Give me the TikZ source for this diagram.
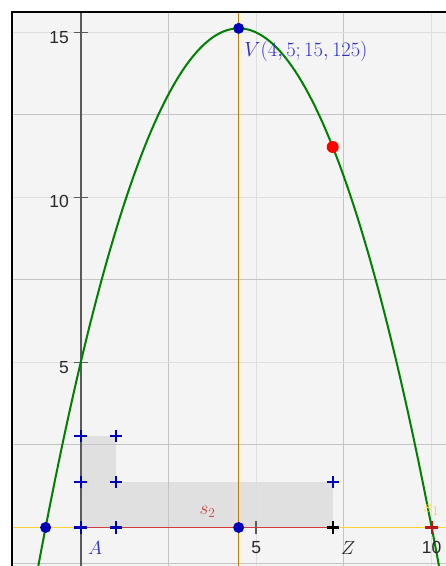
\RequirePackage{fix-cm}
\documentclass[tikz,border=0pt]{standalone}
\usepackage{fontspec}
\newfontfamily\arialf{Liberation Sans}
\definecolor{bgin}{RGB}{244,244,244}
\definecolor{shadec}{RGB}{224,224,224}
\definecolor{gridA}{RGB}{196,196,196}
\definecolor{gridB}{RGB}{222,222,222}
\definecolor{axisc}{RGB}{90,90,90}
\definecolor{ylw}{RGB}{255,208,50}
\definecolor{redl}{RGB}{210,60,60}
\definecolor{orng}{RGB}{190,125,0}
\definecolor{grn}{RGB}{0,128,0}
\definecolor{dblue}{RGB}{0,0,185}
\definecolor{lblue}{RGB}{45,45,200}
\definecolor{dred}{RGB}{190,20,20}
\definecolor{txtc}{RGB}{40,40,40}
\tikzset{
  dotpt/.style={circle, inner sep=0pt, minimum size=11pt},
  plusmark/.style={inner sep=0pt, minimum size=1pt},
  plusline/.style={line width=2.2pt},
  ticklbl/.style={font=\arialf\fontsize{17.5}{20}\selectfont, text=txtc, inner sep=0pt},
  mathlbl/.style={font=\fontsize{19}{22}\selectfont, inner sep=0pt},
}
\newcommand{\plusat}[2]{\draw[plusline,#2] (#1) +(-6.2pt,0) -- +(6.2pt,0) (#1) +(0,-6.2pt) -- +(0,6.2pt);}
\begin{document}
\begin{tikzpicture}[x=35.1pt,y=33pt]
\useasboundingbox (-2.2991,-1.1667) rectangle (10.4074,15.9848);
\fill[white] (-2.2991,-1.1667) rectangle (10.4074,15.9848);
\begin{scope}
\clip (-1.952,-1.1667) rectangle (10.4074,15.606);
\fill[bgin] (-1.952,-1.1667) rectangle (10.4074,15.606);
% shaded area
\fill[shadec] (0,0) rectangle (1,2.78);
\fill[shadec] (0,0) rectangle (7.18,1.38);
% grid
\foreach \gx in {2.5,7.5} \draw[gridA, line width=1pt] (\gx,-1.2) -- (\gx,16);
\foreach \gx in {5,10} \draw[gridB, line width=1pt] (\gx,-1.2) -- (\gx,16);
\foreach \gy in {2.5,7.5,12.5} \draw[gridA, line width=1pt] (-2,\gy) -- (10.5,\gy);
\foreach \gy in {5,10,15} \draw[gridB, line width=1pt] (-2,\gy) -- (10.5,\gy);
\draw[gridA, line width=1.2pt] (-2,-1.1) -- (10.5,-1.1);
% y axis
\draw[axisc, line width=1.7pt] (0,-1.2) -- (0,16);
\foreach \ty in {5,10,15} \draw[axisc, line width=1.5pt] (-0.2,\ty) -- (0.2,\ty);
\draw[axisc, line width=1.5pt] (5,-0.21) -- (5,0.21);
% x axis lines
\coordinate (Lft) at (-1.952,0);
\coordinate (Rgt) at (10.5,0);
\draw[ylw, line width=1.6pt] (Lft) -- (Rgt);
% orange line
\coordinate (OB) at (4.5,-1.2);
\coordinate (OT) at (4.5,16);
\draw[orng, line width=1.5pt] (OB) -- (OT);
% parabola
\draw[grn, line width=2pt, domain=-1.3:10.3, samples=120] plot (\x, {-0.5*\x*\x+4.5*\x+5});
% plus markers
\node[plusmark] (A) at (0,0) {};
\node[plusmark] (B) at (1,0) {};
\node[plusmark] (C) at (0,1.38) {};
\node[plusmark] (D) at (1,1.38) {};
\node[plusmark] (E) at (0,2.78) {};
\node[plusmark] (F) at (1,2.78) {};
\node[plusmark] (G) at (7.18,1.38) {};
\node[plusmark] (Z) at (7.18,0) {};
\node[plusmark] (S) at (10,0) {};
\draw[redl, line width=1.6pt] (A.center) -- (Z.center);
\plusat{A}{dblue}
\plusat{B}{dblue}
\plusat{C}{dblue}
\plusat{D}{dblue}
\plusat{E}{dblue}
\plusat{F}{dblue}
\plusat{G}{dblue}
\plusat{Z}{black}
\plusat{S}{dred}
% points
\node[dotpt, fill=dblue] (P1) at (-1,0) {};
\node[dotpt, fill=dblue] (M) at (4.5,0) {};
\node[dotpt, fill=dblue] (V) at (4.5,15.125) {};
\node[dotpt, fill=red, minimum size=12pt] (P) at (7.18,11.53) {};
% labels
\node[mathlbl, text=lblue, anchor=west, font=\fontsize{20.5}{24}\selectfont] (Vl) at (4.66,14.42) {$V(4,5;15,125)$};
\node[mathlbl, text=lblue] (Al) at (0.41,-0.62) {$A$};
\node[mathlbl, text=txtc] (Zl) at (7.62,-0.62) {$Z$};
\node[mathlbl, text=redl] (s2l) at (3.61,0.47) {$s_2$};
\node[mathlbl, text=ylw] (s1l) at (9.99,0.53) {$s_1$};
\node[ticklbl] (x5) at (5,-0.62) {5};
\node[ticklbl] (x10) at (10,-0.62) {10};
\node[ticklbl, anchor=east] (y5) at (-0.33,4.86) {5};
\node[ticklbl, anchor=east] (y10) at (-0.33,9.88) {10};
\node[ticklbl, anchor=east] (y15) at (-0.33,14.86) {15};
\end{scope}
\draw[black, line width=2pt] (-1.952,-1.1667) -- (-1.952,15.606) -- (10.4074,15.606);
\end{tikzpicture}
\end{document}
